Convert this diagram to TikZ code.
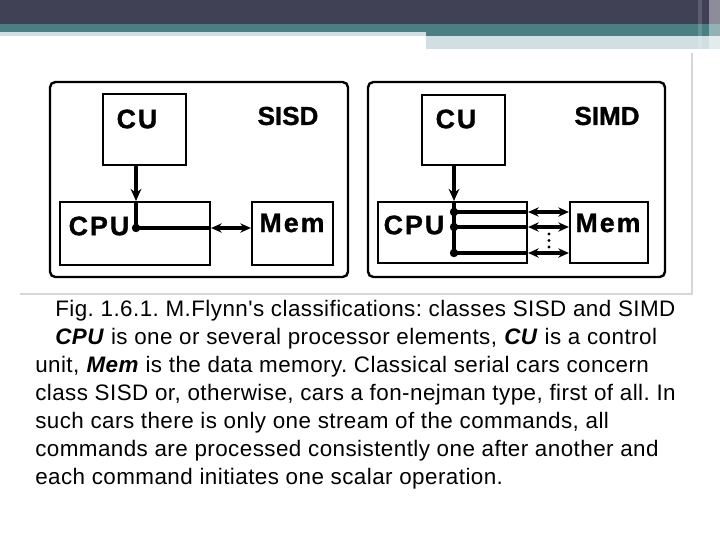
\documentclass[tikz,border=0pt]{standalone}
\usepackage{fontspec}
\setmainfont{Liberation Sans}
\newfontfamily\unitfont[LetterSpace=8, FakeBold=1.2]{Liberation Sans}
\newfontfamily\classfont[FakeBold=1.2]{Liberation Sans}
\newfontfamily\capfont[LetterSpace=2]{Liberation Sans}
\usepackage{tikz}
\usepackage{xcolor}
\usetikzlibrary{arrows.meta}

\definecolor{barDark}{HTML}{414155}
\definecolor{barTeal}{HTML}{4A8083}
\definecolor{barLight}{HTML}{D1DFE2}
\definecolor{rimGray}{HTML}{D6D6D6}

\begin{document}
\frenchspacing
\begin{tikzpicture}[
    x=0.75pt, y=-0.75pt,
    frame/.style={
        rectangle,
        draw,
        line width=1.8pt,
        rounded corners=4pt,
        inner sep=0pt
    },
    unit/.style={
        rectangle,
        draw,
        line width=1.6pt,
        inner sep=0pt
    },
    unitlabel/.style={
        font=\unitfont\fontsize{20pt}{20pt}\selectfont\bfseries,
        inner sep=0pt
    },
    classlabel/.style={
        font=\classfont\fontsize{19.5pt}{20pt}\selectfont\bfseries,
        inner sep=0pt
    },
    wire/.style={line width=2.8pt},
    tip/.style={-{Stealth[length=9pt,width=8pt]}},
    twotip/.style={{Stealth[length=8pt,width=7pt]}-{Stealth[length=8pt,width=7pt]}},
    capline/.style={
        font=\capfont\fontsize{16.8pt}{21pt}\selectfont,
        anchor=base west,
        inner sep=0pt
    }
]
\useasboundingbox (0,0) rectangle (720,540);

% header bars
\fill[barDark] (0,0) rectangle (720,24);
\fill[barTeal] (0,24) rectangle (720,32);
\fill[barLight] (0,32) rectangle (426,36);
\fill[barTeal] (426,32) rectangle (720,36);
\fill[barLight] (426,36) rectangle (720,49);
\fill[white, opacity=0.15] (698,0) rectangle (702,49);
\fill[white, opacity=0.4] (709,0) rectangle (720,49);

% picture rim
\draw[rimGray, line width=0.8pt] (692,53) -- (692,294) -- (20,294);

% SISD
\node[frame, minimum width=223.5pt, minimum height=146.25pt] (sisd) at (199,179.5) {};
\node[unit, minimum width=62.25pt, minimum height=53.25pt] (cu1) at (144.5,129.5) {};
\node[unit, minimum width=112.5pt, minimum height=47.25pt] (cpu1) at (135,233.5) {};
\node[unit, minimum width=60.75pt, minimum height=47.25pt] (mem1) at (292.5,233.5) {};
\node[unitlabel] (cu1t) at (137,119) {CU};
\node[unitlabel] (cpu1t) at (99,226) {CPU};
\node[unitlabel] (mem1t) at (292,223) {Mem};
\node[classlabel] (sisdt) at (288,116) {SISD};

\coordinate (d1) at (136,228);
\draw[wire, tip] (cu1.south -| d1) -- (cpu1.north -| d1);
\draw[wire] (cpu1.north -| d1) -- (d1) -- (cpu1.east |- d1);
\draw[wire, twotip] (cpu1.east |- d1) -- (mem1.west |- d1);
\fill (d1) circle (4.2);

% SIMD
\node[frame, minimum width=222.75pt, minimum height=146.25pt] (simd) at (516.5,179.5) {};
\node[unit, minimum width=62.25pt, minimum height=52.5pt] (cu2) at (463.5,130) {};
\node[unit, minimum width=111.75pt, minimum height=45.75pt] (cpu2) at (452.5,232.5) {};
\node[unit, minimum width=58.5pt, minimum height=45.75pt] (mem2) at (609,232.5) {};
\node[unitlabel] (cu2t) at (456,119) {CU};
\node[unitlabel] (cpu2t) at (414,225) {CPU};
\node[unitlabel] (mem2t) at (608,223) {Mem};
\node[classlabel] (simdt) at (607,116) {SIMD};

\coordinate (d2a) at (454,212);
\coordinate (d2b) at (454,227);
\coordinate (d2c) at (454,253);
\draw[wire, tip] (cu2.south -| d2a) -- (cpu2.north -| d2a);
\draw[wire] (cpu2.north -| d2a) -- (d2c);
\foreach \d in {d2a,d2b,d2c} {
    \draw[wire] (\d) -- (cpu2.east |- \d);
    \draw[wire, twotip] (cpu2.east |- \d) -- (mem2.west |- \d);
    \fill (\d) circle (4.2);
}
\foreach \y in {234,240.5,247}
    \fill (549,\y) circle (1.7);

% caption
\node[capline] (cap1) at (55,316) {Fig. 1.6.1. M.Flynn's classifications: classes SISD and SIMD};
\node[capline] (cap2) at (55,344) {\textbf{\textit{CPU}} is one or several processor elements, \textbf{\textit{CU}} is a control};
\node[capline] (cap3) at (35,372) {unit, \textbf{\textit{Mem}} is the data memory. Classical serial cars concern};
\node[capline] (cap4) at (35,400) {class SISD or, otherwise, cars a fon-nejman type, first of all. In};
\node[capline] (cap5) at (35,428) {such cars there is only one stream of the commands, all};
\node[capline] (cap6) at (35,456) {commands are processed consistently one after another and};
\node[capline] (cap7) at (35,484) {each command initiates one scalar operation.};

\end{tikzpicture}
\end{document}
